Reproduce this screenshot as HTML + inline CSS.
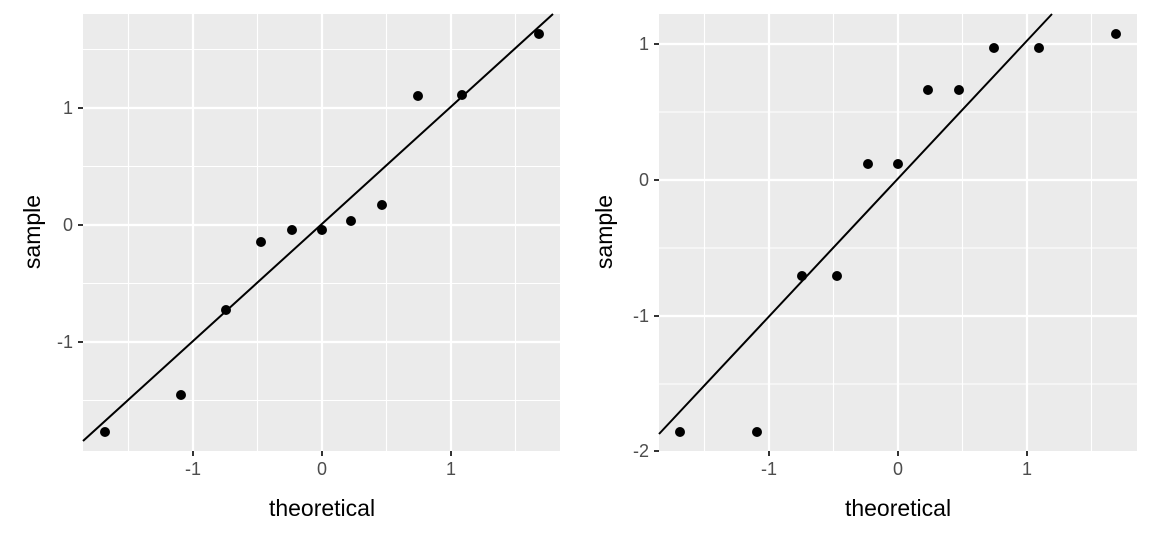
<!DOCTYPE html>
<html><head><style>body{margin:0;background:#fff}svg{display:block}text{font-family:"Liberation Sans",Arial,sans-serif}</style></head><body>
<svg width="1152" height="537" viewBox="0 0 1152 537">
<rect width="1152" height="537" fill="#fff"/>
<!-- left panel -->
<rect x="83" y="14" width="477" height="437" fill="#ebebeb"/>
<g stroke="#fff" stroke-width="1.1">
<line x1="128.5" y1="14" x2="128.5" y2="451"/><line x1="257.5" y1="14" x2="257.5" y2="451"/><line x1="386.5" y1="14" x2="386.5" y2="451"/><line x1="515.5" y1="14" x2="515.5" y2="451"/>
<line x1="83" y1="49.5" x2="560" y2="49.5"/><line x1="83" y1="166.5" x2="560" y2="166.5"/><line x1="83" y1="283.5" x2="560" y2="283.5"/><line x1="83" y1="400.5" x2="560" y2="400.5"/>
</g>
<g stroke="#fff" stroke-width="2.2">
<line x1="193" y1="14" x2="193" y2="451"/><line x1="322" y1="14" x2="322" y2="451"/><line x1="451" y1="14" x2="451" y2="451"/>
<line x1="83" y1="108" x2="560" y2="108"/><line x1="83" y1="225" x2="560" y2="225"/><line x1="83" y1="342" x2="560" y2="342"/>
</g>
<line x1="83" y1="441" x2="553" y2="14" stroke="#000" stroke-width="2"/>
<g fill="#000">
<circle cx="105" cy="432" r="5"/><circle cx="181" cy="395" r="5"/><circle cx="226" cy="310" r="5"/><circle cx="261" cy="242" r="5"/><circle cx="292" cy="230" r="5"/><circle cx="322" cy="230" r="5"/><circle cx="351" cy="221" r="5"/><circle cx="382" cy="205" r="5"/><circle cx="418" cy="96" r="5"/><circle cx="462" cy="95" r="5"/><circle cx="539" cy="34" r="5"/>
</g>
<g stroke="#333" stroke-width="2">
<line x1="193" y1="451" x2="193" y2="456"/><line x1="322" y1="451" x2="322" y2="456"/><line x1="451" y1="451" x2="451" y2="456"/>
<line x1="78" y1="108" x2="83" y2="108"/><line x1="78" y1="225" x2="83" y2="225"/><line x1="78" y1="342" x2="83" y2="342"/>
</g>
<g fill="#4d4d4d" font-size="18">
<text x="193" y="475" text-anchor="middle">-1</text><text x="322" y="475" text-anchor="middle">0</text><text x="451" y="475" text-anchor="middle">1</text>
<text x="73" y="114" text-anchor="end">1</text><text x="73" y="231" text-anchor="end">0</text><text x="73" y="348" text-anchor="end">-1</text>
</g>
<text x="322" y="516" text-anchor="middle" font-size="23">theoretical</text>
<text transform="translate(40,232) rotate(-90)" text-anchor="middle" font-size="23">sample</text>
<!-- right panel -->
<rect x="659" y="14" width="478" height="437" fill="#ebebeb"/>
<g stroke="#fff" stroke-width="1.1">
<line x1="704.5" y1="14" x2="704.5" y2="451"/><line x1="833.5" y1="14" x2="833.5" y2="451"/><line x1="962.5" y1="14" x2="962.5" y2="451"/><line x1="1091.5" y1="14" x2="1091.5" y2="451"/>
<line x1="659" y1="112" x2="1137" y2="112"/><line x1="659" y1="248" x2="1137" y2="248"/><line x1="659" y1="384" x2="1137" y2="384"/>
</g>
<g stroke="#fff" stroke-width="2.2">
<line x1="769" y1="14" x2="769" y2="451"/><line x1="898" y1="14" x2="898" y2="451"/><line x1="1027" y1="14" x2="1027" y2="451"/>
<line x1="659" y1="44" x2="1137" y2="44"/><line x1="659" y1="180" x2="1137" y2="180"/><line x1="659" y1="316" x2="1137" y2="316"/>
</g>
<line x1="659" y1="434" x2="1052" y2="14" stroke="#000" stroke-width="2"/>
<g fill="#000">
<circle cx="680" cy="432" r="5"/><circle cx="757" cy="432" r="5"/><circle cx="802" cy="276" r="5"/><circle cx="837" cy="276" r="5"/><circle cx="868" cy="164" r="5"/><circle cx="898" cy="164" r="5"/><circle cx="928" cy="90" r="5"/><circle cx="959" cy="90" r="5"/><circle cx="994" cy="48" r="5"/><circle cx="1039" cy="48" r="5"/><circle cx="1116" cy="34" r="5"/>
</g>
<g stroke="#333" stroke-width="2">
<line x1="769" y1="451" x2="769" y2="456"/><line x1="898" y1="451" x2="898" y2="456"/><line x1="1027" y1="451" x2="1027" y2="456"/>
<line x1="654" y1="44" x2="659" y2="44"/><line x1="654" y1="180" x2="659" y2="180"/><line x1="654" y1="316" x2="659" y2="316"/><line x1="654" y1="451" x2="659" y2="451"/>
</g>
<g fill="#4d4d4d" font-size="18">
<text x="769" y="475" text-anchor="middle">-1</text><text x="898" y="475" text-anchor="middle">0</text><text x="1027" y="475" text-anchor="middle">1</text>
<text x="649" y="50" text-anchor="end">1</text><text x="649" y="186" text-anchor="end">0</text><text x="649" y="322" text-anchor="end">-1</text><text x="649" y="457" text-anchor="end">-2</text>
</g>
<text x="898" y="516" text-anchor="middle" font-size="23">theoretical</text>
<text transform="translate(612,232) rotate(-90)" text-anchor="middle" font-size="23">sample</text>
</svg>
</body></html>
